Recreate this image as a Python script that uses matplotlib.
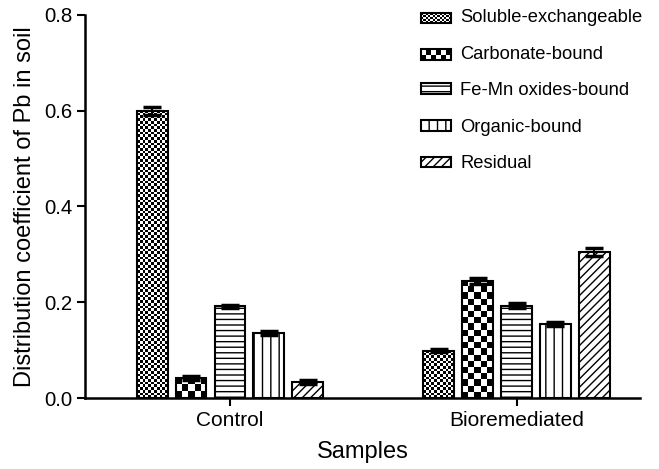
import numpy as np
import matplotlib
matplotlib.use('Agg')
import matplotlib.pyplot as plt
from matplotlib.patches import Rectangle

plt.rcParams['font.family'] = ['Liberation Sans', 'DejaVu Sans']
plt.rcParams['hatch.linewidth'] = 1.0

# data
samples = ['Control', 'Bioremediated']
fractions = ['Soluble-exchangeable', 'Carbonate-bound', 'Fe-Mn oxides-bound',
             'Organic-bound', 'Residual']
soluble = [0.600, 0.099]
carbonate = [0.042, 0.245]
femn = [0.192, 0.193]
organic = [0.135, 0.154]
residual = [0.033, 0.305]
soluble_err = [0.008, 0.003]
carbonate_err = [0.004, 0.006]
femn_err = [0.003, 0.005]
organic_err = [0.004, 0.004]
residual_err = [0.004, 0.009]

values = [soluble, carbonate, femn, organic, residual]
errors = [soluble_err, carbonate_err, femn_err, organic_err, residual_err]
# checkerboards are drawn as clipped images (cell size in px), the rest use hatches
styles = [('checker', 2.7), ('checker', 6.3), ('hatch', '---'), ('hatch', '||'), ('hatch', '////')]


class CheckerHandler:
    def __init__(self, cell):
        self.cell = cell

    def legend_artist(self, legend, orig_handle, fontsize, handlebox):
        x0, y0 = handlebox.xdescent, handlebox.ydescent
        w, h = handlebox.width, handlebox.height
        nx = max(1, int(round(w / self.cell)))
        ny = max(1, int(round(h / self.cell)))
        cw, ch = w / nx, h / ny
        tr = handlebox.get_transform()
        for i in range(nx):
            for j in range(ny):
                if (i + j) % 2 == 0:
                    handlebox.add_artist(Rectangle((x0 + i * cw, y0 + j * ch), cw, ch,
                                                   facecolor='black', edgecolor='none', transform=tr))
        outline = Rectangle((x0, y0), w, h, facecolor='none', edgecolor='black',
                            lw=1.5, transform=tr)
        handlebox.add_artist(outline)
        return outline


fig = plt.figure(figsize=(6.59, 4.69), dpi=100)
ax = fig.add_axes([85 / 659, 1 - 398 / 469, (640 - 85) / 659, (398 - 15) / 469])
xmin, xmax = -0.506, 1.431
ymin, ymax = 0.0, 0.8
ax.set_xlim(xmin, xmax)
ax.set_ylim(ymin, ymax)

x = np.arange(len(samples))
width = 0.108
step = 0.136
px_x = 555 / (xmax - xmin)
px_y = 383 / (ymax - ymin)

handles = []
handler_map = {}
for k, (vals, errs, style) in enumerate(zip(values, errors, styles)):
    pos = x + (k - 2) * step
    if style[0] == 'checker':
        bars = ax.bar(pos, vals, width, facecolor='none', edgecolor='black',
                      linewidth=1.5, zorder=3, label=fractions[k])
        cell = style[1]
        for rect in bars:
            bw, bh = rect.get_width(), rect.get_height()
            nx = max(1, int(round(bw * px_x / cell)))
            ny = max(1, int(round(bh * px_y / cell)))
            board = (np.add.outer(np.arange(ny), np.arange(nx)) % 2).astype(float)
            im = ax.imshow(board, cmap='gray', vmin=0, vmax=1, interpolation='nearest',
                           extent=(rect.get_x(), rect.get_x() + bw, 0, bh),
                           origin='lower', aspect='auto', zorder=2)
            im.set_clip_path(rect)
        handler_map[bars] = CheckerHandler(cell / 100 * 72 * 0.85)
    else:
        bars = ax.bar(pos, vals, width, facecolor='white', edgecolor='black',
                      linewidth=1.5, hatch=style[1], zorder=3, label=fractions[k])
    ax.errorbar(pos, vals, yerr=errs, fmt='none', ecolor='black', elinewidth=1.5,
                capsize=6.5, capthick=2.5, zorder=4)
    handles.append(bars)

ax.set_xlim(xmin, xmax)
ax.set_ylim(ymin, ymax)

for side in ['top', 'right']:
    ax.spines[side].set_visible(False)
for side in ['left', 'bottom']:
    ax.spines[side].set_linewidth(1.8)

ax.set_yticks([0.0, 0.2, 0.4, 0.6, 0.8])
ax.set_yticklabels(['0.0', '0.2', '0.4', '0.6', '0.8'])
ax.set_xticks(x)
ax.set_xticklabels(samples)
ax.tick_params(axis='y', labelsize=14.7, length=6, width=1.5, pad=3)
ax.tick_params(axis='x', labelsize=15, length=6, width=1.5, pad=3.5)

ax.set_ylabel('Distribution coefficient of Pb in soil', fontsize=17, labelpad=6)
ax.set_xlabel('Samples', fontsize=17, labelpad=8)

leg = ax.legend(handles=handles, labels=fractions, handler_map=handler_map,
                loc='upper left', bbox_to_anchor=(421 / 659, 1 - 9 / 469),
                bbox_transform=fig.transFigure, frameon=False, fontsize=13.2,
                handlelength=1.64, handleheight=0.5, handletextpad=0.5,
                labelspacing=1.07, borderpad=0, borderaxespad=0)

fig.savefig('out.png', dpi=100)
